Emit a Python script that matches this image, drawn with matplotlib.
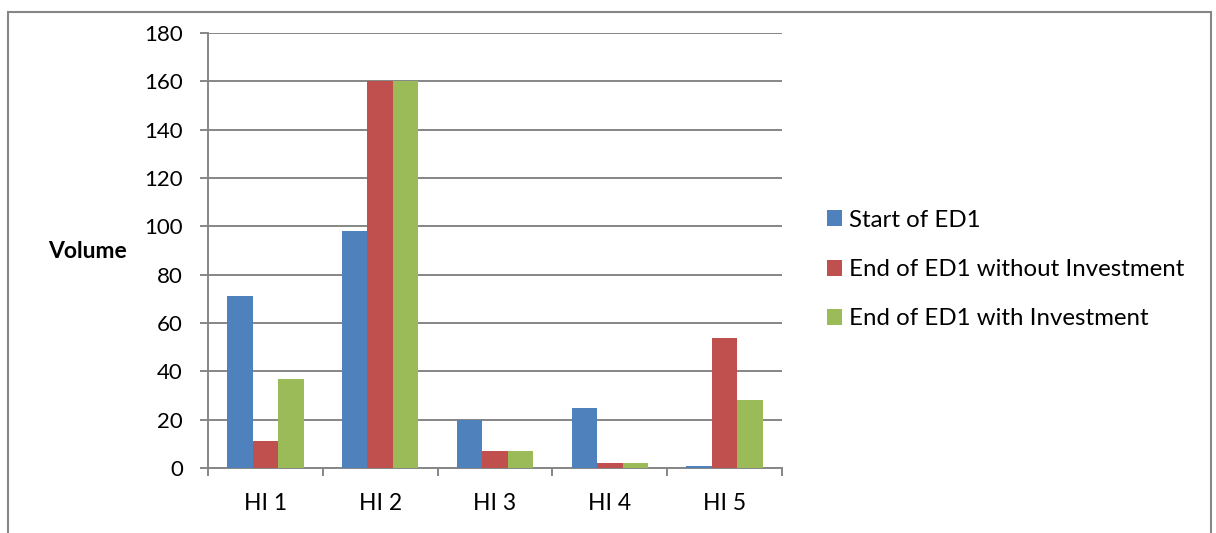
import matplotlib
matplotlib.use("Agg")
import matplotlib.pyplot as plt
from matplotlib.patches import Rectangle
import numpy as np

categories = ["HI 1", "HI 2", "HI 3", "HI 4", "HI 5"]
start_ed1 = [71, 98, 20, 25, 1]
end_without = [11, 160, 7, 2, 54]
end_with = [37, 160, 7, 2, 28]
series_names = ["Start of ED1", "End of ED1 without Investment", "End of ED1 with Investment"]
colors = ["#4F81BD", "#C0504D", "#9BBB59"]
y_ticks = list(range(0, 181, 20))

plt.rcParams["font.family"] = ["Lato", "DejaVu Sans"]
grid_col = "#868686"

fig = plt.figure(figsize=(12.16, 5.33), dpi=100)
ax = fig.add_axes([208 / 1216, 65 / 533, 574 / 1216, 435 / 533])

# outer chart frame (bottom edge runs off the canvas)
fig.patches.append(Rectangle((8 / 1216, -0.05), 1203 / 1216, 1.05 - 12 / 533,
                             transform=fig.transFigure, fill=False,
                             edgecolor=grid_col, linewidth=1.5))

x = np.arange(len(categories))
w = 1 / 4.5
for i, (vals, name, c) in enumerate(zip([start_ed1, end_without, end_with], series_names, colors)):
    ax.bar(x + (i - 1) * w, vals, width=w, color=c, label=name, zorder=3)

ax.set_xlim(-0.5, len(categories) - 0.5)
ax.set_ylim(0, 180)
ax.set_yticks(y_ticks)
ax.yaxis.grid(True, color=grid_col, linewidth=1.4, zorder=0)
ax.set_axisbelow(True)

ax.set_xticks(x)
ax.set_xticklabels(categories)
ax.set_xticks(np.arange(-0.5, len(categories)), minor=True)
ax.tick_params(axis="x", which="major", length=0, pad=18, labelsize=16.5)
ax.tick_params(axis="x", which="minor", length=6, width=1.4, color=grid_col, direction="out")
ax.tick_params(axis="y", length=6, width=1.4, color=grid_col, direction="out", pad=12, labelsize=16)

for s in ["top", "right"]:
    ax.spines[s].set_visible(False)
for s in ["left", "bottom"]:
    ax.spines[s].set_color(grid_col)
    ax.spines[s].set_linewidth(1.4)

ax.set_ylabel("Volume", rotation=0, fontweight="bold", fontsize=16.5,
              ha="center", va="center")
ax.yaxis.set_label_coords((88 - 208) / 574, (468 - 252) / 435)

leg = fig.legend(loc="center left", bbox_to_anchor=(805 / 1216, 1 - 269.5 / 533),
                 frameon=False, fontsize=17.3, handlelength=0.65, handleheight=0.65,
                 handletextpad=0.3, labelspacing=1.18)

fig.savefig("out.png", dpi=100)
